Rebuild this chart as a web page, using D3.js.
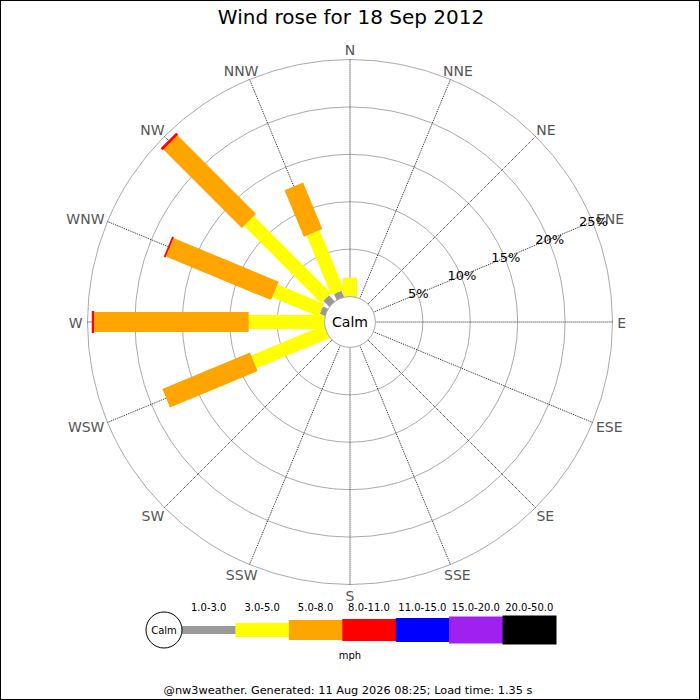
<!DOCTYPE html>
<html>
<head>
<meta charset="utf-8">
<script src="https://cdn.jsdelivr.net/npm/d3@7"></script>
<style>
  body { margin: 0; background: #fff; }
  svg { display: block; font-family: "DejaVu Sans", sans-serif; }
</style>
</head>
<body>
<svg id="chart" width="700" height="700"></svg>
<script>
// ---- data ----
const title = "Wind rose for 18 Sep 2012";
const footer = "@nw3weather. Generated: 11 Aug 2026 08:25; Load time: 1.35 s";
const directions = ["N","NNE","NE","ENE","E","ESE","SE","SSE","S","SSW","SW","WSW","W","WNW","NW","NNW"];
const speedClasses = ["1.0-3.0","3.0-5.0","5.0-8.0","8.0-11.0","11.0-15.0","15.0-20.0","20.0-50.0"];
const classColors = ["#999999","#ffff00","#ffa500","#ff0000","#0000ff","#a020f0","#000000"];
const classWidths = [8, 14, 20, 22, 24, 27, 29];
const ringTicks = [5, 10, 15, 20, 25];
const ringLabels = ["5%", "10%", "15%", "20%", "25%"];
const unitLabel = "mph";
// percentage of time per direction, per speed class
const pctN   = [0, 2.0, 0, 0, 0, 0, 0];
const pctNNW = [0.7, 6.8, 5.3, 0, 0, 0, 0];
const pctNW  = [0.9, 11.5, 11.7, 0.3, 0, 0, 0];
const pctWNW = [0.6, 5.3, 12.0, 0.2, 0, 0, 0];
const pctW   = [0, 8.0, 16.3, 0.25, 0, 0, 0];
const pctWSW = [0, 8.3, 10.0, 0, 0, 0, 0];
const zero = [0, 0, 0, 0, 0, 0, 0];
const dirValues = {
  N: pctN, NNE: zero, NE: zero, ENE: zero, E: zero, ESE: zero, SE: zero, SSE: zero,
  S: zero, SSW: zero, SW: zero, WSW: pctWSW, W: pctW, WNW: pctWNW, NW: pctNW, NNW: pctNNW
};

// ---- layout ----
const svg = d3.select("#chart");
const cx = 350, cy = 322;
const calmR = 25.4, outerR = 262.5;
const r = d3.scaleLinear().domain([0, 25]).range([calmR, outerR]);
const ang = d3.scalePoint().domain(directions).range([0, 360 - 22.5]); // degrees clockwise from N

svg.append("rect").attr("x", 0.5).attr("y", 0.5).attr("width", 699).attr("height", 699)
  .attr("fill", "#fff").attr("stroke", "#000").attr("stroke-width", 1);

svg.append("text").attr("x", 351).attr("y", 24).attr("text-anchor", "middle")
  .attr("font-size", 20).attr("fill", "#000").text(title);

const g = svg.append("g").attr("transform", `translate(${cx},${cy})`);

// rings
g.selectAll("circle.ring").data(ringTicks).join("circle")
  .attr("class", "ring").attr("r", d => r(d))
  .attr("fill", "none").attr("stroke", "#aaa").attr("stroke-width", 1);

// spokes
const pt = (deg, rad) => {
  const a = deg * Math.PI / 180;
  return [rad * Math.sin(a), -rad * Math.cos(a)];
};
g.selectAll("line.spoke").data(directions).join("line")
  .attr("class", "spoke")
  .attr("x1", d => pt(ang(d), calmR)[0]).attr("y1", d => pt(ang(d), calmR)[1])
  .attr("x2", d => pt(ang(d), outerR)[0]).attr("y2", d => pt(ang(d), outerR)[1])
  .attr("stroke", "#222").attr("stroke-width", 1).attr("stroke-dasharray", "1,1");

// direction labels: pushed outward horizontally by half their width
const labelRx = 267.3, labelRy = 273;
g.selectAll("text.dir").data(directions).join("text")
  .attr("class", "dir")
  .attr("text-anchor", "middle").attr("dominant-baseline", "central")
  .attr("font-size", 14).attr("fill", "#555").text(d => d)
  .each(function(d) {
    const w = this.getComputedTextLength();
    const a = ang(d) * Math.PI / 180;
    const ux = Math.sin(a), uy = -Math.cos(a);
    d3.select(this).attr("x", ux * (labelRx + w / 2)).attr("y", uy * labelRy + 1);
  });

// bars
directions.forEach(dir => {
  const vals = dirValues[dir];
  let cum = 0;
  const segs = [];
  vals.forEach((v, i) => {
    if (v > 0) {
      const start = cum;
      cum += v;
      segs.push({ i, start, end: cum, first: segs.length === 0 });
    }
  });
  const bg = g.append("g").attr("transform", `rotate(${ang(dir)})`);
  bg.selectAll("rect").data(segs).join("rect")
    .attr("x", d => -classWidths[d.i] / 2)
    .attr("width", d => classWidths[d.i])
    .attr("y", d => -r(d.end))
    .attr("height", d => r(d.end) - (d.first ? 0 : r(d.start)))
    .attr("fill", d => classColors[d.i]);
});

// calm circle
g.append("circle").attr("r", calmR).attr("fill", "#fff").attr("stroke", "#aaa").attr("stroke-width", 1);
g.append("text").attr("x", 0).attr("y", 0).attr("text-anchor", "middle").attr("dominant-baseline", "central")
  .attr("font-size", 14).attr("fill", "#000").text("Calm");

// ring labels along ENE
g.selectAll("text.ringlab").data(ringTicks).join("text")
  .attr("class", "ringlab")
  .attr("x", (d) => pt(ang("ENE"), r(d) + 1)[0])
  .attr("y", (d) => pt(ang("ENE"), r(d) + 1)[1])
  .attr("text-anchor", "middle").attr("dominant-baseline", "central")
  .attr("font-size", 13).attr("fill", "#000").text((d, i) => ringLabels[i]);

// legend
const lx = d3.scaleBand().domain(speedClasses).range([182, 556]);
const ly = 630;
const leg = svg.append("g");
leg.selectAll("rect").data(speedClasses).join("rect")
  .attr("x", d => lx(d)).attr("width", lx.bandwidth() + 0.5)
  .attr("y", (d, i) => ly - classWidths[i] / 2).attr("height", (d, i) => classWidths[i])
  .attr("fill", (d, i) => classColors[i]);
leg.selectAll("text.lab").data(speedClasses).join("text")
  .attr("class", "lab")
  .attr("x", d => lx(d) + lx.bandwidth() / 2).attr("y", 607)
  .attr("text-anchor", "middle").attr("dominant-baseline", "central")
  .attr("font-size", 10).attr("fill", "#000").text(d => d);
leg.append("circle").attr("cx", 164).attr("cy", ly).attr("r", 18)
  .attr("fill", "#fff").attr("stroke", "#000").attr("stroke-width", 1);
leg.append("text").attr("x", 164).attr("y", ly).attr("text-anchor", "middle").attr("dominant-baseline", "central")
  .attr("font-size", 10).attr("fill", "#000").text("Calm");
leg.append("text").attr("x", 350).attr("y", 655).attr("text-anchor", "middle").attr("dominant-baseline", "central")
  .attr("font-size", 10).attr("fill", "#000").text(unitLabel);

svg.append("text").attr("x", 348).attr("y", 694).attr("text-anchor", "middle")
  .attr("font-size", 11.3).attr("fill", "#000").text(footer);
</script>
</body>
</html>
